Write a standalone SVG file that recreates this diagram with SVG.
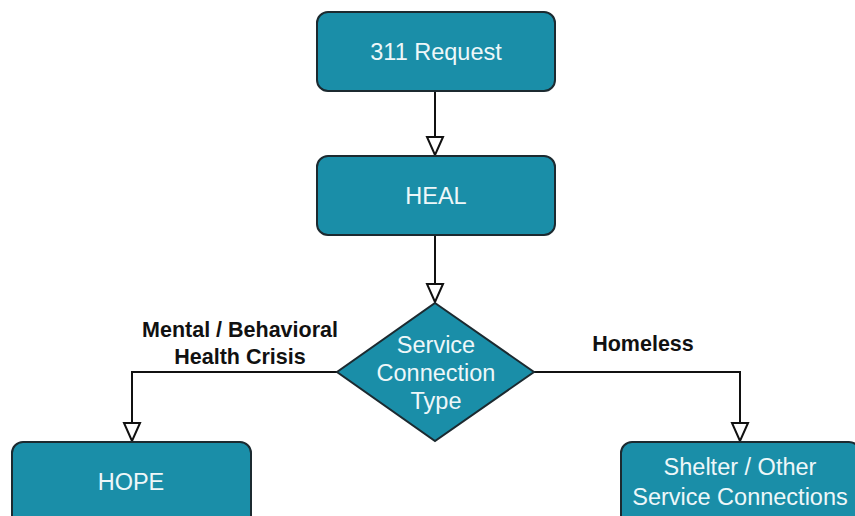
<svg xmlns="http://www.w3.org/2000/svg" width="855" height="516" viewBox="0 0 855 516">
<style>
.node{fill:#1a8ea8;stroke:#1c2a30;stroke-width:2}
.nt{fill:#eef7f9;font-family:"Liberation Sans",Arial,sans-serif;font-size:23.5px;text-anchor:middle}
.lbl{fill:#111;font-family:"Liberation Sans",Arial,sans-serif;font-size:21.5px;font-weight:bold;text-anchor:middle}
.edge{fill:none;stroke:#111;stroke-width:2}
</style>
<defs>
<marker id="tri" viewBox="0 0 20 20" refX="19" refY="10" markerWidth="20" markerHeight="20" markerUnits="userSpaceOnUse" orient="auto">
<path d="M1,2 L19,10 L1,18 Z" fill="#fff" stroke="#111" stroke-width="2" stroke-linejoin="miter"/>
</marker>
</defs>
<rect width="855" height="516" fill="#fff"/>
<g id="connectors">
<path class="edge" d="M435,91 V155" marker-end="url(#tri)"/>
<path class="edge" d="M435,235 V302" marker-end="url(#tri)"/>
<path class="edge" d="M337,372 H132 V441" marker-end="url(#tri)"/>
<path class="edge" d="M533,372 H740 V441" marker-end="url(#tri)"/>
<text class="lbl" x="240" y="337">Mental / Behavioral</text>
<text class="lbl" x="240" y="364">Health Crisis</text>
<text class="lbl" x="643" y="351">Homeless</text>
</g>
<g id="request">
<rect class="node" x="317" y="12" width="238" height="79" rx="11"/>
<text class="nt" x="436" y="60">311 Request</text>
</g>
<g id="heal">
<rect class="node" x="317" y="156" width="238" height="79" rx="11"/>
<text class="nt" x="436" y="204">HEAL</text>
</g>
<g id="decision">
<path class="node" d="M435,303 L534,372 L435,441 L337,372 Z"/>
<text class="nt" x="436" y="353">Service</text>
<text class="nt" x="436" y="381">Connection</text>
<text class="nt" x="436" y="409">Type</text>
</g>
<g id="hope">
<rect class="node" x="12" y="442" width="239" height="90" rx="11"/>
<text class="nt" x="131" y="490">HOPE</text>
</g>
<g id="shelter">
<rect class="node" x="621" y="442" width="239" height="90" rx="11"/>
<text class="nt" x="740" y="475">Shelter / Other</text>
<text class="nt" x="740" y="505">Service Connections</text>
</g>
</svg>
